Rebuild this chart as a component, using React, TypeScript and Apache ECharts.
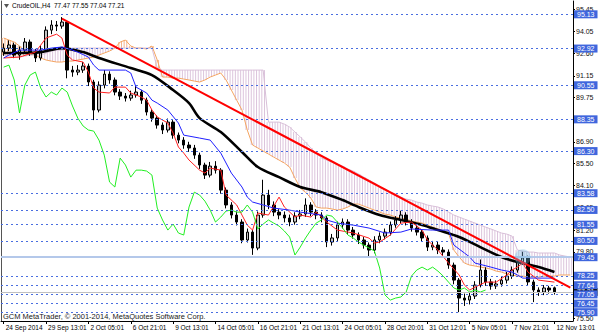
import React, { useEffect, useRef } from "react";
import * as echarts from "echarts";

const xTickLabels = [
  "24 Sep 2014", "29 Sep 13:01", "2 Oct 05:01", "6 Oct 21:01", "9 Oct 13:01",
  "14 Oct 05:01", "16 Oct 21:01", "21 Oct 13:01", "24 Oct 05:01", "28 Oct 20:01",
  "31 Oct 12:01", "5 Nov 05:01", "7 Nov 21:01", "12 Nov 13:01",
];
const slotCount = 108;
const categories = Array.from({ length: slotCount }, (_, i) => "s" + i);

const yTickValues = [95.45, 94.05, 92.6, 91.15, 89.75, 86.9, 85.5, 84.1, 82.65, 81.2, 79.8, 75.5];
const dashedLevels = [95.13, 92.92, 90.55, 88.35, 86.3, 83.58, 82.5, 81.55, 80.5, 78.25, 77.64, 77.05, 76.45, 75.9];
const solidLevels = [79.45];
const bidPrice = 77.21;

const opens = [92.70,92.95,93.15,92.50,92.82,93.34,92.69,92.31,92.82,94.11,
  94.44,94.37,94.63,91.53,91.40,91.53,91.79,90.76,88.95,90.56,
  91.27,90.89,90.11,89.85,89.72,89.92,90.11,89.59,88.82,88.43,
  87.98,87.66,88.17,87.33,87.01,86.69,86.50,86.04,85.40,84.75,
  85.33,85.07,83.78,82.82,82.17,81.72,80.56,81.07,80.04,82.17,
  83.46,82.82,82.36,82.17,81.98,81.72,82.11,82.24,82.82,82.36,
  82.17,81.98,80.43,80.69,81.53,81.72,81.20,80.88,80.56,80.23,
  79.91,80.56,80.81,81.07,81.53,81.85,82.17,81.72,81.33,81.07,
  80.69,80.10,80.23,79.91,79.78,78.94,77.97,76.81,76.68,76.94,
  77.65,78.62,77.85,77.59,77.72,77.97,78.23,78.62,79.14,79.40,
  77.85,77.33,77.20,77.46,77.47];
const closes = [92.95,93.15,92.50,92.82,93.34,92.69,92.31,92.82,94.11,94.44,
  94.37,94.63,91.53,91.40,91.53,91.79,90.76,88.95,90.56,91.27,
  90.89,90.11,89.85,89.72,89.92,90.11,89.59,88.82,88.43,87.98,
  87.66,88.17,87.33,87.01,86.69,86.50,86.04,85.40,84.75,85.33,
  85.07,83.78,82.82,82.17,81.72,80.56,81.07,80.04,82.17,83.46,
  82.82,82.36,82.17,81.98,81.72,82.11,82.24,82.82,82.36,82.17,
  81.98,80.43,80.69,81.53,81.72,81.20,80.88,80.56,80.23,79.91,
  80.56,80.81,81.07,81.53,81.85,82.17,81.72,81.33,81.07,80.69,
  80.10,80.23,79.91,79.78,78.94,77.97,76.81,76.68,76.94,77.65,
  78.62,77.85,77.59,77.72,77.97,78.23,78.62,79.14,79.40,77.85,
  77.33,77.20,77.46,77.33,77.21];
const lows = [92.45,92.75,92.30,92.20,92.60,92.45,92.05,92.15,92.70,93.85,
  94.05,94.20,91.00,91.10,91.20,91.35,90.50,88.30,88.80,90.35,
  90.65,89.90,89.60,89.50,89.55,89.75,89.35,88.60,88.20,87.75,
  87.40,87.50,87.10,86.80,86.45,86.25,85.80,85.15,84.50,84.60,
  84.85,83.55,82.60,81.95,81.50,80.35,80.40,79.60,79.90,82.00,
  82.55,82.10,81.90,81.70,81.45,81.55,81.90,82.05,82.10,81.90,
  81.70,80.10,80.20,80.50,81.30,80.95,80.65,80.30,80.00,79.48,
  79.70,80.35,80.60,80.85,81.35,81.60,81.50,81.10,80.85,80.45,
  79.85,79.90,79.65,79.50,78.70,77.70,75.90,76.30,76.40,76.75,
  77.50,77.60,77.35,77.40,77.55,77.75,78.05,78.45,78.95,77.60,
  76.55,76.95,77.00,77.10,77.04];
const highs = [93.25,93.45,93.30,93.05,93.60,93.50,92.90,93.10,94.35,94.75,
  94.70,94.95,94.70,91.80,91.85,92.05,91.95,90.90,90.80,91.53,
  91.45,91.05,90.30,90.05,90.20,90.50,90.25,89.75,89.00,88.60,
  88.15,88.40,88.30,87.50,87.20,86.90,86.70,86.20,85.55,85.60,
  85.65,85.20,83.95,83.00,82.40,81.90,81.30,81.20,82.40,84.45,
  83.80,83.05,82.55,82.40,82.20,82.35,82.50,83.25,83.00,82.55,
  82.35,82.10,80.95,81.75,81.95,81.90,81.40,81.05,80.75,80.40,
  80.80,81.05,81.30,81.75,82.10,82.45,82.35,81.90,81.50,81.25,
  80.85,80.50,80.45,80.10,79.95,79.10,78.10,77.10,77.20,77.90,
  79.30,78.80,78.05,77.95,78.20,78.50,78.85,79.35,79.80,79.55,
  78.00,77.50,77.65,77.60,77.55];

const spanA = [93.60,93.47,93.34,93.08,92.76,92.63,92.50,92.31,92.18,92.11,
  92.05,92.05,92.11,92.11,92.18,92.24,92.31,92.37,92.50,92.63,
  92.76,92.95,93.34,93.47,93.08,92.95,92.95,92.89,93.08,92.18,
  91.08,91.08,91.01,91.01,90.95,90.89,90.82,90.76,90.89,91.08,
  91.21,91.34,90.89,90.24,89.59,88.95,87.66,86.69,86.50,86.30,
  86.11,85.91,85.72,85.53,85.27,84.56,83.91,83.65,83.27,82.69,
  82.62,82.62,82.56,82.49,82.56,82.69,82.88,82.88,82.75,82.62,
  82.49,82.36,82.23,82.17,82.04,81.98,81.91,81.78,81.72,81.65,
  81.52,81.39,81.27,81.14,81.01,79.91,79.46,79.07,78.94,78.88,
  78.81,78.75,78.68,78.55,78.49,78.36,78.30,78.23,78.23,78.17,
  78.17,78.17,78.23,78.23,78.23,78.30,78.30,78.30];
const spanB = [92.50,92.43,92.37,92.37,92.43,92.50,92.50,92.50,92.63,92.76,
  92.82,92.82,92.89,92.95,92.95,92.95,92.95,92.95,92.95,92.95,
  92.95,92.95,92.95,92.95,92.95,92.95,92.95,92.95,92.95,91.66,
  91.53,91.53,91.53,91.53,91.53,91.53,91.53,91.53,91.53,91.53,
  91.53,91.53,91.53,91.53,91.53,91.53,91.53,91.53,91.53,91.53,
  88.17,88.17,88.17,88.04,87.85,87.53,87.21,86.88,86.50,86.17,
  85.85,85.72,85.59,85.46,85.33,85.14,85.01,84.82,84.62,84.43,
  84.24,83.98,83.85,83.65,83.53,83.33,83.20,83.14,83.01,82.94,
  82.82,82.75,82.69,82.56,82.36,82.17,82.04,81.91,81.78,81.65,
  81.52,81.39,81.27,81.14,81.01,80.94,80.81,79.91,79.85,79.78,
  79.78,79.72,79.72,79.72,79.72,79.59,79.52,79.46];

const chikou = [91.72,91.85,90.89,88.76,90.56,91.21,91.40,90.37,89.79,90.11,
  89.92,90.37,90.11,89.21,88.43,87.92,87.66,87.59,87.01,86.04,
  84.30,83.98,85.85,85.40,84.62,85.07,85.07,85.01,84.75,82.62,
  81.85,81.20,81.59,81.01,80.88,82.69,83.65,83.46,83.07,82.49,
  81.72,82.04,82.43,82.49,82.36,82.36,82.82,82.36,81.27,81.59,
  81.85,81.65,81.46,81.14,80.75,79.59,80.10,80.69,81.20,81.65,
  81.85,82.17,82.10,81.72,81.33,80.88,80.69,80.43,80.23,80.04,
  79.85,78.75,77.01,76.68,76.81,76.88,77.20,78.23,78.62,78.81,
  78.62,78.81,78.55,78.23,77.84,77.46,77.33,77.46,77.20,77.33,
  77.20,77.33];

const movingAverage = [[0,92.63],[3,92.63],[7,92.69],[11,92.95],[15,92.69],[18,92.31],[24,91.66],[28,91.21],
  [32,90.24],[35,89.40],[37,88.43],[41,87.53],[45,86.24],[48,85.27],[52,84.62],[56,83.98],[60,83.65],
  [64,83.14],[67,82.69],[71,82.17],[75,81.85],[79,81.53],[82,81.20],[86,80.75],[90,80.10],[94,79.46],
  [97,79.14],[101,78.81],[104,78.49]];

const tenkan = [[0,92.31],[3,92.37],[6,92.69],[8,93.60],[10,93.85],[11,93.60],[12,92.50],[13,92.18],[15,92.05],
  [16,91.40],[17,90.37],[18,90.11],[20,90.05],[21,90.43],[23,90.43],[24,90.05],[26,89.79],[27,89.59],
  [28,88.95],[29,88.50],[31,88.11],[32,87.46],[33,86.56],[34,86.17],[35,85.72],[37,85.07],[38,84.88],
  [39,85.20],[41,85.07],[42,83.46],[44,82.82],[45,82.17],[46,81.52],[47,81.20],[48,82.30],[50,82.17],
  [52,83.33],[53,82.69],[55,82.04],[56,82.17],[58,82.04],[59,82.36],[61,81.72],[63,81.20],[66,81.01],
  [69,80.68],[70,80.36],[71,80.43],[73,80.88],[75,81.65],[77,81.72],[79,81.20],[80,80.56],[82,79.91],
  [84,79.07],[86,78.30],[87,77.65],[88,77.33],[89,77.52],[91,77.84],[93,77.84],[95,78.30],[96,78.62],
  [97,78.81],[98,79.07],[99,78.49],[101,77.97],[104,77.84]];

const kijun = [[0,92.31],[1,92.50],[3,92.82],[5,92.82],[7,92.82],[9,92.95],[11,93.02],[13,92.82],[14,92.69],
  [16,92.37],[17,91.85],[18,91.53],[23,91.53],[24,91.34],[25,90.43],[27,90.05],[28,89.59],[29,89.40],
  [31,88.95],[33,88.11],[34,87.33],[37,87.14],[39,87.01],[41,86.17],[43,84.88],[45,83.98],[46,83.33],
  [47,83.01],[49,82.82],[51,82.62],[54,82.49],[56,82.36],[60,82.17],[61,81.85],[63,81.65],[66,81.52],
  [69,81.33],[72,81.01],[75,81.07],[77,81.27],[81,81.20],[84,81.20],[85,80.23],[87,79.72],[88,79.46],
  [89,79.07],[92,78.81],[94,78.62],[96,78.49],[97,78.30],[98,78.10],[104,78.10]];

const trendLine = [[11, 94.85], [107, 77.49]];
const highlightPoint = [[98, 79.45]];

const titleText = "CrudeOIL,H4  77.47 77.55 77.04 77.21";
const copyrightText = "GCM MetaTrader, \u00a9 2001-2014, MetaQuotes Software Corp.";

const FONT = "'Liberation Sans', Arial, sans-serif";

export default function App() {
  const ref = useRef<HTMLDivElement>(null);
  useEffect(() => {
    const chart = echarts.init(ref.current as HTMLDivElement, null, { renderer: "svg" });
    const candleData = opens.map((o, i) => [o, closes[i], lows[i], highs[i]]);
    const cloudData = spanA.map((a, i) => [i, a, spanB[i]]);
    const fmt = (p: any) => Number(p.value).toFixed(2);
    const boxLabel = (bg: string) => ({
      show: true,
      position: "end",
      distance: 1,
      formatter: fmt,
      color: "#ffffff",
      backgroundColor: bg,
      padding: [1, 3, 0, 3],
      fontSize: 7,
      fontFamily: FONT,
    });
    const markData: any[] = [
      { yAxis: bidPrice, lineStyle: { color: "#c0c0c0", type: "solid", width: 1 }, label: boxLabel("#000000") },
      ...dashedLevels.map((v) => ({
        yAxis: v,
        lineStyle: { color: "#4a6ee0", type: [2, 3], width: 1 },
        label: boxLabel("#3f66dd"),
      })),
      ...solidLevels.map((v) => ({
        yAxis: v,
        lineStyle: { color: "#b4c8ea", type: "solid", width: 2 },
        label: boxLabel("#3f66dd"),
      })),
    ];
    chart.setOption({
      animation: false,
      backgroundColor: "#ffffff",
      grid: { left: 1, right: 27, top: 1, bottom: 12, outerBoundsMode: "none", containLabel: false },
      xAxis: {
        type: "category",
        data: categories,
        boundaryGap: true,
        axisLine: { show: true, lineStyle: { color: "#000", width: 1 } },
        axisTick: { show: true, interval: 7, alignWithLabel: true, length: 3, lineStyle: { color: "#000" } },
        axisLabel: {
          interval: 7,
          align: "left",
          margin: 3,
          padding: [0, 0, 0, 2],
          fontSize: 6.5,
          fontFamily: FONT,
          color: "#000",
          formatter: (_v: string, idx: number) => xTickLabels[idx / 8] ?? "",
        },
        splitLine: { show: false },
      },
      yAxis: [
        {
          type: "value",
          position: "right",
          min: 75.33,
          max: 95.99,
          scale: true,
          splitLine: { show: false },
          axisLine: { show: true, lineStyle: { color: "#000", width: 1 } },
          axisTick: { show: true, length: 2, customValues: yTickValues, lineStyle: { color: "#000" } },
          axisLabel: {
            customValues: yTickValues,
            formatter: (v: number) => v.toFixed(2),
            fontSize: 7,
            fontFamily: FONT,
            color: "#111",
            margin: 3,
          },
        },
        {
          type: "value",
          position: "left",
          min: 75.33,
          max: 95.99,
          scale: true,
          splitLine: { show: false },
          axisLine: { show: true, lineStyle: { color: "#555", width: 1 } },
          axisTick: { show: false },
          axisLabel: { show: false },
        },
      ],
      graphic: [
        { type: "polygon", shape: { points: [[4, 4], [9, 4], [6.5, 8]] }, style: { fill: "#555" } },
        { type: "text", left: 12, top: 2, style: { text: titleText, fontSize: 6.5, fontFamily: FONT, fill: "#000" } },
        { type: "text", left: 3, top: 312, style: { text: copyrightText, fontSize: 7.5, fontFamily: FONT, fill: "#222" } },
      ],
      series: [
        {
          type: "custom",
          name: "kumo",
          z: 1,
          clip: false,
          encode: { x: 0, y: [1, 2] },
          data: cloudData,
          renderItem: (_params: any, api: any) => {
            const i = api.value(0);
            const a = api.value(1);
            const b = api.value(2);
            const top = api.coord([i, Math.max(a, b)]);
            const bot = api.coord([i, Math.min(a, b)]);
            const w = api.size([1, 0])[0];
            const stroke = a >= b ? "#f6b48a" : "#dcc4dc";
            return {
              type: "group",
              children: [-0.25, 0.25].map((f) => ({
                type: "line",
                shape: { x1: top[0] + f * w, y1: top[1], x2: top[0] + f * w, y2: bot[1] },
                style: { stroke, lineWidth: 1 },
              })),
            };
          },
          markLine: { silent: true, symbol: ["none", "none"], animation: false, data: markData },
        },
        {
          type: "line", name: "spanA", data: spanA, z: 2, showSymbol: false,
          lineStyle: { color: "#f4a460", width: 1 },
        },
        {
          type: "line", name: "spanB", data: spanB, z: 2, showSymbol: false,
          lineStyle: { color: "#d8bfd8", width: 1 },
        },
        {
          type: "candlestick",
          name: "CrudeOIL",
          z: 3,
          data: candleData,
          barWidth: 3,
          itemStyle: { color: "#c4c4c4", color0: "#000000", borderColor: "#000000", borderColor0: "#000000", borderWidth: 1 },
        },
        {
          type: "line", name: "MA", data: movingAverage, z: 4, showSymbol: false, smooth: 0.3,
          lineStyle: { color: "#000", width: 2.6 },
        },
        {
          type: "line", name: "tenkan", data: tenkan, z: 4, showSymbol: false,
          lineStyle: { color: "#ff2020", width: 1 },
        },
        {
          type: "line", name: "kijun", data: kijun, z: 4, showSymbol: false,
          lineStyle: { color: "#2020ff", width: 1 },
        },
        {
          type: "line", name: "chikou", data: chikou, z: 4, showSymbol: false,
          lineStyle: { color: "#22ee22", width: 1 },
        },
        {
          type: "line", name: "trend", data: trendLine, z: 5, showSymbol: false,
          lineStyle: { color: "#ff0000", width: 2 },
        },
        {
          type: "scatter", name: "mark", data: highlightPoint, z: 5, symbolSize: 16,
          itemStyle: { color: "rgba(110,185,225,0.45)" },
        },
      ],
    });
    return () => chart.dispose();
  }, []);
  return (
    <div
      ref={ref}
      style={{ position: "fixed", left: 0, top: 0, width: 600, height: 333, background: "#fff" }}
    />
  );
}
